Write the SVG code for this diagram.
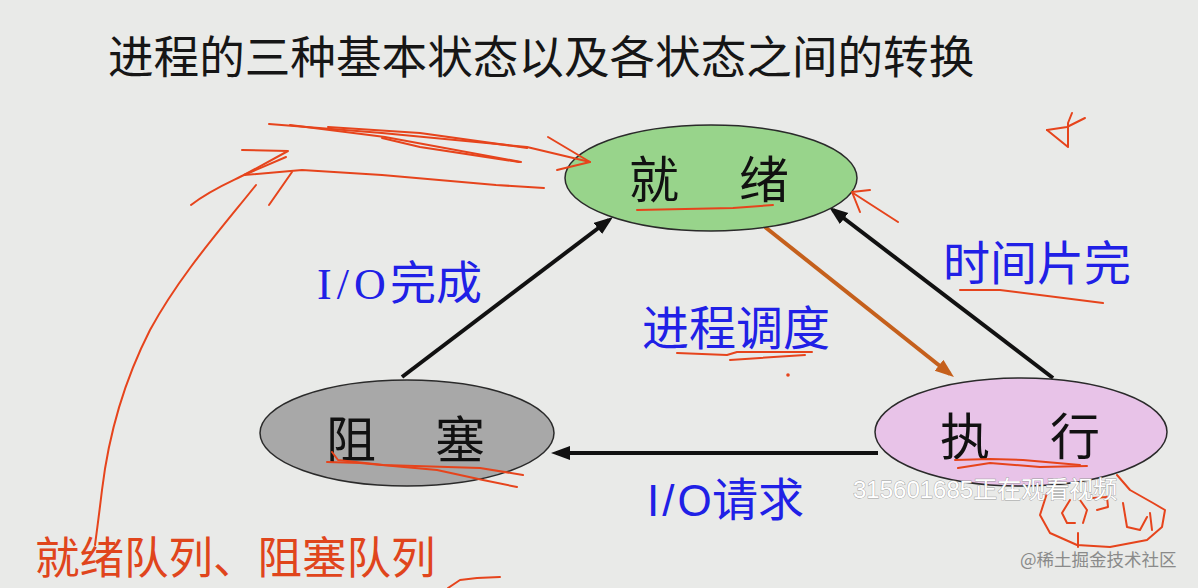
<svg xmlns="http://www.w3.org/2000/svg" width="1198" height="588" viewBox="0 0 1198 588">
<defs>
<style>
.cjk{font-family:"Noto Sans CJK SC","Noto Sans",sans-serif}
.node{stroke:#2a2a2a;stroke-width:1.5}
.ntext{font-family:"Noto Sans CJK SC",sans-serif;font-size:50px;fill:#111}
.lbl{font-family:"Noto Sans CJK SC",sans-serif;fill:#2020e6}
.conn{fill:none;stroke:#111;stroke-width:4}
.conn2{fill:none;stroke:#c5601c;stroke-width:4}
.ink{fill:none;stroke:#e6441c;stroke-width:2;stroke-linecap:round;stroke-linejoin:round}
</style>
<marker id="ah" markerUnits="userSpaceOnUse" markerWidth="20" markerHeight="16" refX="14" refY="7" orient="auto">
<path d="M0,0 L19,7 L0,14 Z" fill="#111"/>
</marker>
<marker id="ah2" markerUnits="userSpaceOnUse" markerWidth="20" markerHeight="16" refX="14" refY="7" orient="auto">
<path d="M0,0 L19,7 L0,14 Z" fill="#c5601c"/>
</marker>
</defs>
<rect width="1198" height="588" fill="#e9eae8"/>
<text class="cjk" x="108" y="74" font-size="45.6" fill="#161616">进程的三种基本状态以及各状态之间的转换</text>

<g id="connectors">
<line class="conn" x1="402" y1="377" x2="609" y2="220" marker-end="url(#ah)"/>
<line class="conn2" x1="765" y1="227" x2="950" y2="374" marker-end="url(#ah2)"/>
<line class="conn" x1="1053" y1="378" x2="833" y2="210" marker-end="url(#ah)"/>
<line class="conn" x1="878" y1="453" x2="556" y2="453" marker-end="url(#ah)"/>
</g>

<g id="ready">
<ellipse class="node" cx="711" cy="178" rx="146" ry="53" fill="#98d48b"/>
<text class="ntext" y="198"><tspan x="629">就</tspan><tspan x="739">绪</tspan></text>
</g>
<g id="blocked">
<ellipse class="node" cx="407" cy="433" rx="147" ry="53" fill="#a8a8a8"/>
<text class="ntext" y="458"><tspan x="326">阻</tspan><tspan x="435">塞</tspan></text>
</g>
<g id="running">
<ellipse class="node" cx="1021" cy="432" rx="146" ry="54" fill="#e8c3e8"/>
<text class="ntext" y="455"><tspan x="940">执</tspan><tspan x="1050">行</tspan></text>
</g>

<g id="labels">
<text class="lbl" y="299" font-size="46"><tspan x="317" font-family="Liberation Serif" font-size="44" letter-spacing="5">I/O</tspan><tspan x="390">完成</tspan></text>
<text class="lbl" x="642" y="345" font-size="47">进程调度</text>
<text class="lbl" x="943" y="280" font-size="47">时间片完</text>
<text class="lbl" y="516" font-size="46"><tspan x="647" font-family="Liberation Sans" font-size="44" letter-spacing="3">I/O</tspan><tspan x="712">请求</tspan></text>
</g>

<g id="annotations">
<text class="cjk" x="35" y="574" font-size="44.5" fill="#e0451c">就绪队列、阻塞队列</text>
<path class="ink" d="M269,124 L382,133 L527,147 L590,162"/>
<path class="ink" d="M290,125 L385,137 L521,162"/>
<path class="ink" d="M328,127 L420,133 L527,148"/>
<path class="ink" d="M382,138 L420,147 L519,162"/>
<path class="ink" d="M548,137 L590,162 L557,170"/>
<path class="ink" d="M242,150 L288,151 L244,175"/>
<path class="ink" d="M191,205 C210,190 230,182 244,175 L286,157"/>
<path class="ink" d="M269,205 L292,172"/>
<path class="ink" d="M244,175 L302,170 L382,175 L496,185 L544,188"/>
<path class="ink" d="M256,185 C220,230 180,275 150,330 C122,385 108,440 102,490 C99,515 97,530 95,545"/>
<path class="ink" d="M637,210 L733,208 L773,205"/>
<path class="ink" d="M870,190 L852,192 L860,212"/>
<path class="ink" d="M853,193 L898,222"/>
<path class="ink" d="M960,290 L1000,290 L1103,303"/>
<path class="ink" d="M677,353 L727,355 L737,352 L812,352"/>
<path class="ink" d="M730,360 L805,355"/>
<circle cx="788" cy="375" r="1.8" fill="#e6441c"/>
<path class="ink" d="M332,452 L338,460 L383,465 L480,468 L523,475"/>
<path class="ink" d="M327,462 L360,463 L437,470 L483,480 L517,487"/>
<path class="ink" d="M955,460 L990,459 L1023,460 L1080,465"/>
<path class="ink" d="M958,468 L990,463 L1040,467 L1087,466"/>
<path class="ink" d="M1070,500 L1062,513 L1067,523 L1075,523"/>
<path class="ink" d="M1080,500 L1087,510 L1083,523"/>
<path class="ink" d="M1093,498 L1107,497 L1108,507 L1097,510"/>
<path class="ink" d="M1123,503 L1127,527 L1140,530 L1147,517"/>
<path class="ink" d="M1150,513 L1152,530"/>
<path class="ink" d="M1117,475 L1130,490 L1153,503 L1165,510 L1162,527 L1147,540 L1110,547 L1077,545 L1050,533 L1040,515 L1047,493"/>
<path class="ink" d="M1078,533 L1078,547"/>
<path class="ink" d="M1047,130 L1067,127 L1085,118"/>
<path class="ink" d="M1047,130 L1068,147 L1068,123 L1072,113"/>
<path class="ink" d="M448,588 L460,580 L477,578 L500,577"/>
</g>

<g id="watermarks">
<text font-family="Liberation Sans, Noto Sans CJK SC, sans-serif" x="853" y="498" font-size="24" fill="#ffffff" stroke="#9a9a9a" stroke-width="0.8" paint-order="stroke">315601685<tspan font-family="Noto Sans CJK SC">正在观看视频</tspan></text>
<text class="cjk" x="1020" y="566" font-size="17.5" fill="#8a8a8a">@稀土掘金技术社区</text>
</g>
</svg>
